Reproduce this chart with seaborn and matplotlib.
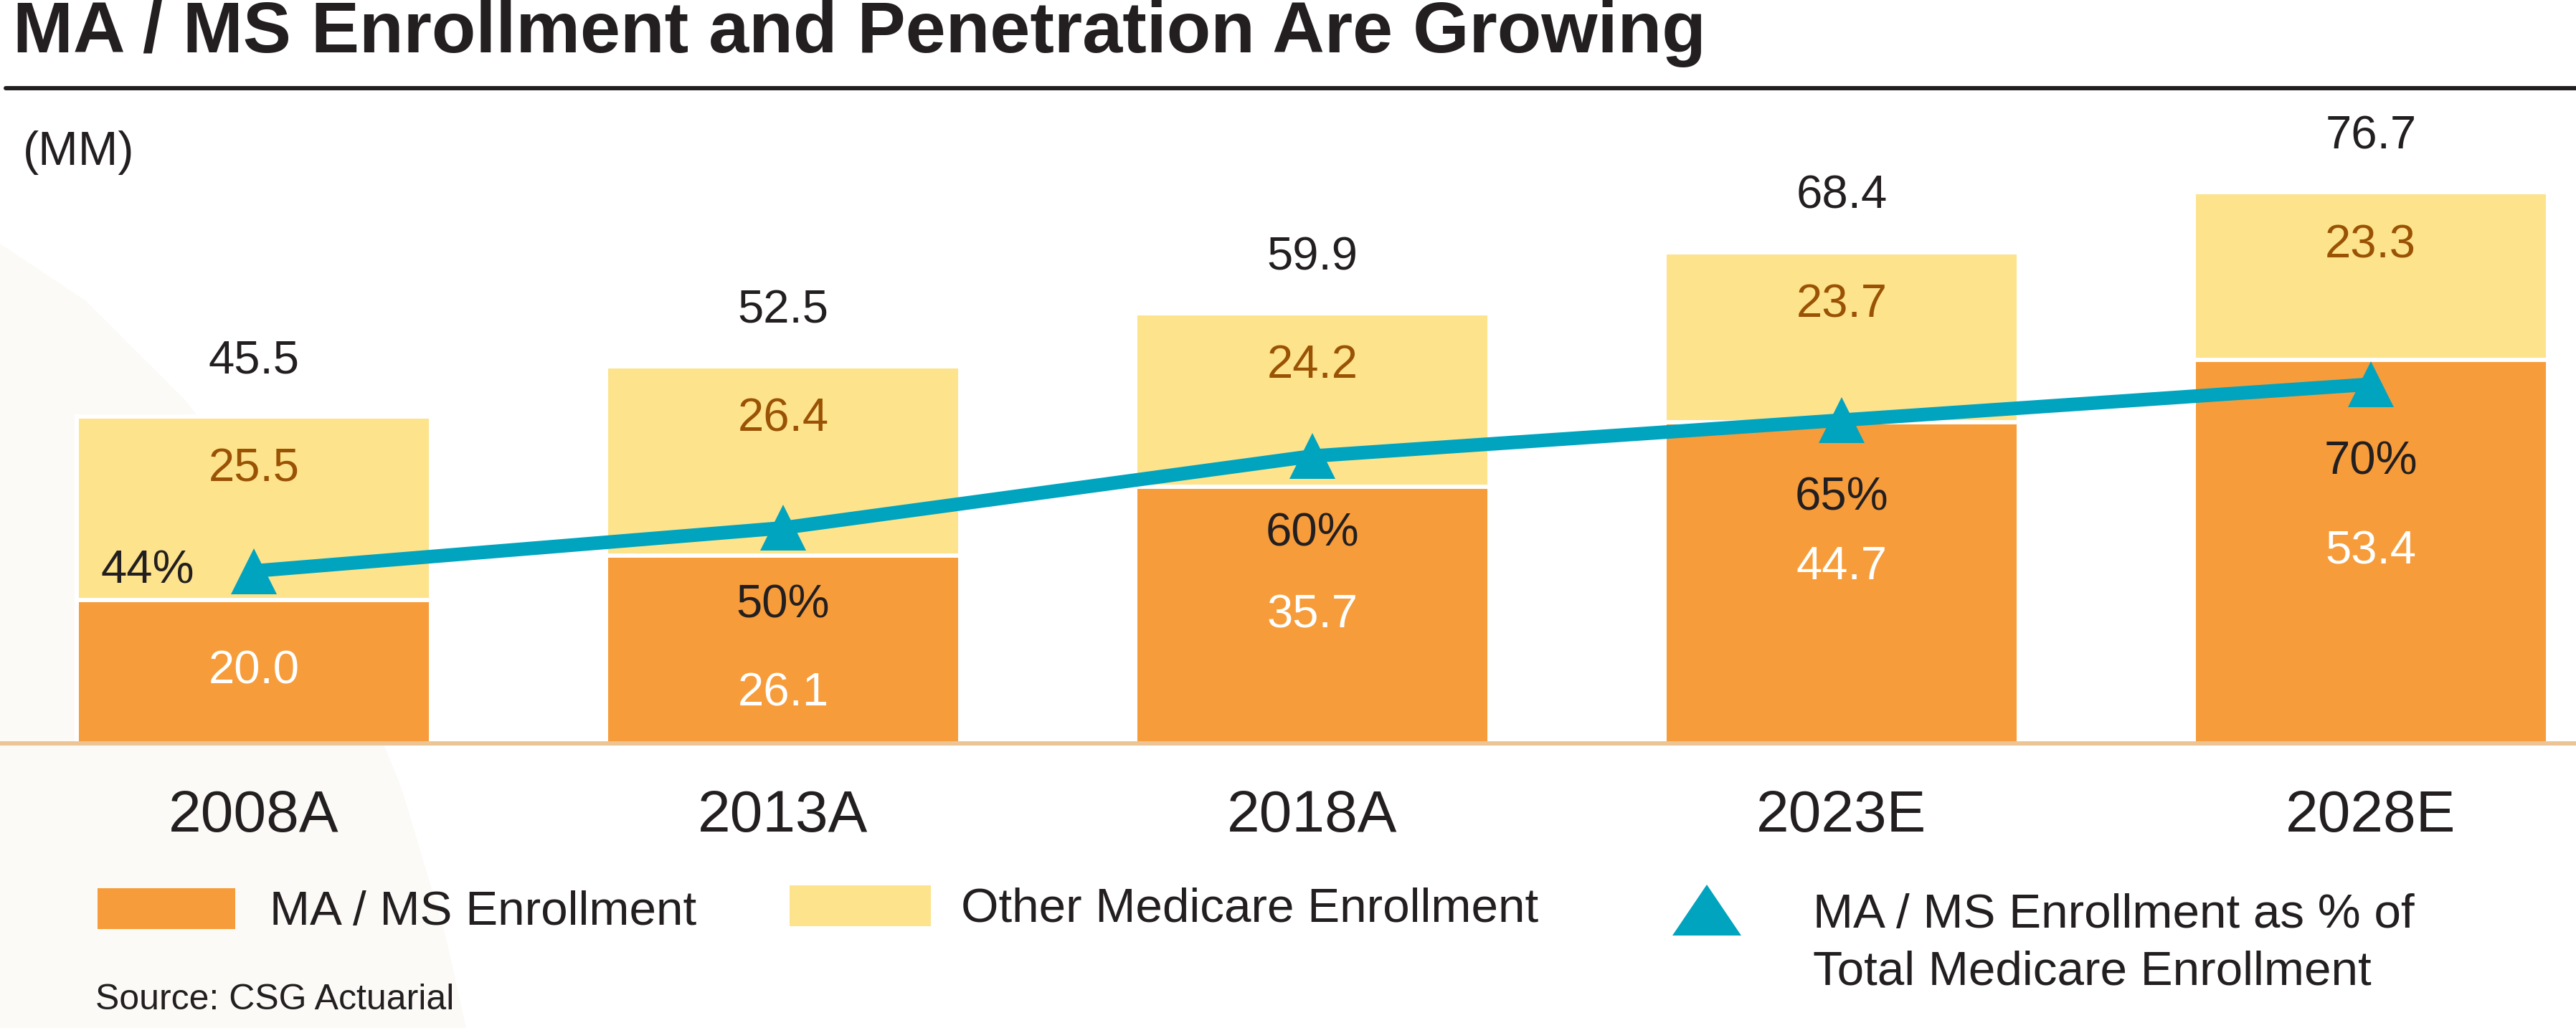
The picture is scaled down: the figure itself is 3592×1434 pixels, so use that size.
import numpy as np
import matplotlib.pyplot as plt
from matplotlib.patches import Rectangle, Polygon
from matplotlib.lines import Line2D
import seaborn as sns

# chart data (MM)
years = ["2008A", "2013A", "2018A", "2023E", "2028E"]
ma_ms = [20.0, 26.1, 35.7, 44.7, 53.4]
other = [25.5, 26.4, 24.2, 23.7, 23.3]
totals = [45.5, 52.5, 59.9, 68.4, 76.7]
penetration = [44, 50, 60, 65, 70]  # MA / MS as % of total

ORANGE = "#F79C3A"
YELLOW = "#FDE38C"
TEAL = "#00A4BF"
BROWN = "#9A5205"
INK = "#231F20"
AXIS = "#EDC493"

sns.set_style("white")
plt.rcParams["font.family"] = ["Liberation Sans", "DejaVu Sans"]

W, H = 3592, 1434
fig = plt.figure(figsize=(W / 100, H / 100), dpi=100)

def fx(x):
    return x / W

def fy(y):
    return 1 - y / H

# faint swoosh in the background
swoosh = [(0, 340), (120, 420), (260, 560), (380, 720), (480, 900),
          (560, 1100), (620, 1300), (650, 1434), (0, 1434)]
fig.add_artist(Polygon([(fx(x), fy(y)) for x, y in swoosh], closed=True,
                       transform=fig.transFigure, facecolor="#FCFAF7",
                       edgecolor="none", zorder=-5))

ax = fig.add_axes([0, fy(1037), 1, 851.7 / H])
ax.patch.set_visible(False)

sns.barplot(x=years, y=totals, color=YELLOW, saturation=1, width=0.669,
            edgecolor="white", linewidth=4.3, errorbar=None, ax=ax)
sns.barplot(x=years, y=ma_ms, color=ORANGE, saturation=1, width=0.669,
            edgecolor="white", linewidth=4.3, errorbar=None, ax=ax)

ax.set_xlim(-0.48, 4.388)
ax.set_ylim(0, 85)
ax.set_yticks([])
ax.set(xlabel="", ylabel="")
for side in ["left", "right", "top"]:
    ax.spines[side].set_visible(False)
ax.spines["bottom"].set_color(AXIS)
ax.spines["bottom"].set_linewidth(4.3)
ax.tick_params(axis="x", length=0, pad=46, labelsize=59, labelcolor=INK)

# penetration line on its own scale
ax2 = ax.twinx()
sns.lineplot(x=np.arange(len(years)), y=penetration, ax=ax2, color=TEAL,
             linewidth=13.7, marker="^", markersize=46, markeredgewidth=0)
ax2.set_ylim(20, 105)
ax2.set_xlim(-0.48, 4.388)
ax2.set_axis_off()

orange_shift = [0, -44, 0, 16, 0]  # pt, label nudges

for i in range(len(years)):
    ax2.annotate(f"{totals[i]:.1f}", xy=(i, totals[i]), xycoords=ax.transData,
                 xytext=(0, 56), textcoords="offset points", ha="center",
                 va="center", fontsize=47, color=INK)
    ax2.annotate(f"{other[i]:.1f}", xy=(i, totals[i]), xycoords=ax.transData,
                 xytext=(0, -53), textcoords="offset points", ha="center",
                 va="center", fontsize=47, color=BROWN)
    ax2.annotate(f"{ma_ms[i]:.1f}", xy=(i, ma_ms[i] / 2), xycoords=ax.transData,
                 xytext=(0, orange_shift[i]), textcoords="offset points",
                 ha="center", va="center", fontsize=47, color="white")
    if i == 0:
        ax2.annotate(f"{penetration[i]}%", xy=(i, penetration[i]),
                     xytext=(-60, 0), textcoords="offset points", ha="right",
                     va="center", fontsize=47, color=INK)
    else:
        ax2.annotate(f"{penetration[i]}%", xy=(i, penetration[i]),
                     xytext=(0, -78), textcoords="offset points", ha="center",
                     va="center", fontsize=47, color=INK)

# header
fig.text(fx(18), fy(73), "MA / MS Enrollment and Penetration Are Growing",
         fontsize=72.5, fontweight="bold", color=INK, va="baseline")
fig.add_artist(Line2D([fx(8), 1], [fy(123), fy(123)], color=INK,
                      linewidth=4.3, transform=fig.transFigure))
fig.text(fx(32), fy(230), "(MM)", fontsize=48, color=INK, va="baseline")

# legend
fig.add_artist(Rectangle((fx(136), fy(1296)), (328 - 136) / W, 57 / H,
                         transform=fig.transFigure, facecolor=ORANGE,
                         edgecolor="none"))
fig.text(fx(376), fy(1290), "MA / MS Enrollment", fontsize=48.5, color=INK,
         va="baseline")
fig.add_artist(Rectangle((fx(1101), fy(1292)), (1298 - 1101) / W, 57 / H,
                         transform=fig.transFigure, facecolor=YELLOW,
                         edgecolor="none"))
fig.text(fx(1340), fy(1286), "Other Medicare Enrollment", fontsize=48.5,
         color=INK, va="baseline")
tri = [(2332, 1305), (2428, 1305), (2380, 1234)]
fig.add_artist(Polygon([(fx(x), fy(y)) for x, y in tri], closed=True,
                       transform=fig.transFigure, facecolor=TEAL,
                       edgecolor="none"))
fig.text(fx(2528), fy(1294), "MA / MS Enrollment as % of", fontsize=48.5,
         color=INK, va="baseline")
fig.text(fx(2528), fy(1374), "Total Medicare Enrollment", fontsize=48.5,
         color=INK, va="baseline")

fig.text(fx(133), fy(1408), "Source: CSG Actuarial", fontsize=36, color=INK,
         va="baseline")

fig.savefig("out.png", dpi=100)
